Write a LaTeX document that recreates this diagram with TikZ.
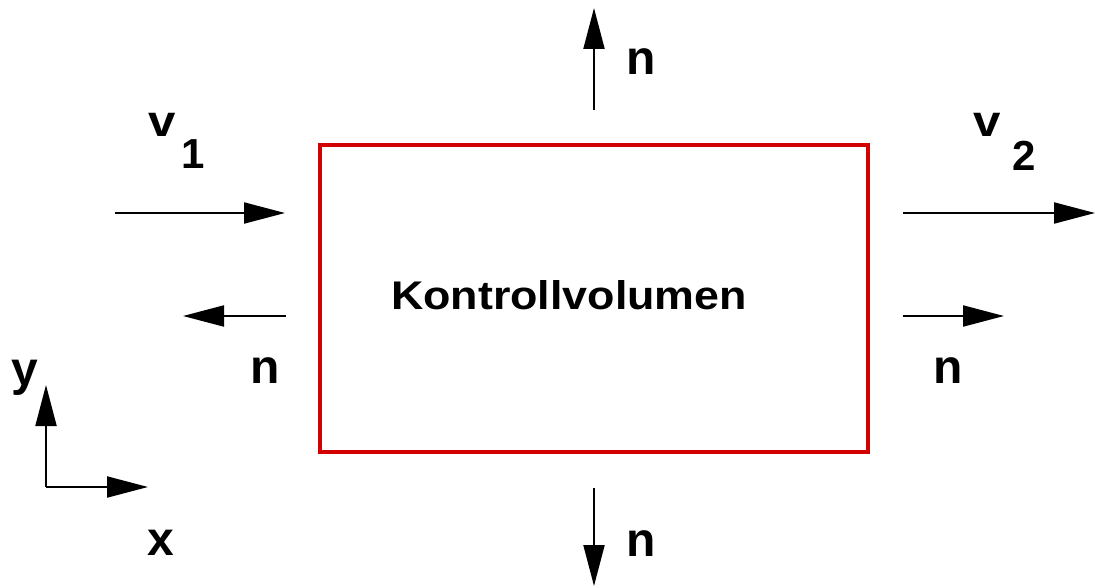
\documentclass[tikz,border=0pt]{standalone}
\usepackage{fontspec}
\setmainfont{Liberation Sans}
\usetikzlibrary{arrows.meta}
\definecolor{boxred}{RGB}{210,0,0}
\begin{document}
\begin{tikzpicture}[x=1pt,y=-1pt,
  vec/.style={line width=2pt,-{Triangle[length=41pt,width=21pt]}},
  lbl/.style={inner sep=0pt,anchor=base,font=\bfseries\fontsize{48}{48}\selectfont},
  vlbl/.style={inner sep=0pt,anchor=base,xscale=1.12,transform shape,font=\bfseries\fontsize{44}{44}\selectfont},
  sublbl/.style={inner sep=0pt,anchor=base,font=\bfseries\fontsize{42}{42}\selectfont}]
\useasboundingbox (0,0) rectangle (1095,588);
% control volume
\draw[boxred,line width=3.5pt] (320,145) rectangle (868,452);
\node[inner sep=0pt,anchor=base,xscale=1.12,transform shape,font=\bfseries\fontsize{40}{40}\selectfont] (kv) at (569,309) {Kontrollvolumen};
% coordinates
\coordinate (v1s) at (115,213); \coordinate (v1e) at (285,213);
\coordinate (nls) at (286,316); \coordinate (nle) at (183,316);
\coordinate (v2s) at (903,213); \coordinate (v2e) at (1095,213);
\coordinate (nrs) at (903,316); \coordinate (nre) at (1004,316);
\coordinate (nts) at (594,110); \coordinate (nte) at (594,8);
\coordinate (nbs) at (594,488); \coordinate (nbe) at (594,586);
\coordinate (o) at (46,487); \coordinate (ye) at (46,385); \coordinate (xe) at (148,487);
% arrows
\draw[vec] (v1s) -- (v1e);
\draw[vec] (nls) -- (nle);
\draw[vec] (v2s) -- (v2e);
\draw[vec] (nrs) -- (nre);
\draw[vec] (nts) -- (nte);
\draw[vec] (nbs) -- (nbe);
\draw[vec] (o) -- (ye);
\draw[vec] (o) -- (xe);
% labels
\node[vlbl] (v1) at (162.5,137) {v};
\node[sublbl] (s1) at (193,169) {1};
\node[vlbl] (v2) at (987,137) {v};
\node[sublbl] (s2) at (1024,171) {2};
\node[lbl] (nt) at (641,75) {n};
\node[lbl] (nl) at (265.5,383) {n};
\node[lbl] (nr) at (948.5,383) {n};
\node[lbl] (nb) at (641,556) {n};
\node[lbl] (yl) at (25,385) {y};
\node[lbl] (xl) at (161,555) {x};
\end{tikzpicture}
\end{document}
